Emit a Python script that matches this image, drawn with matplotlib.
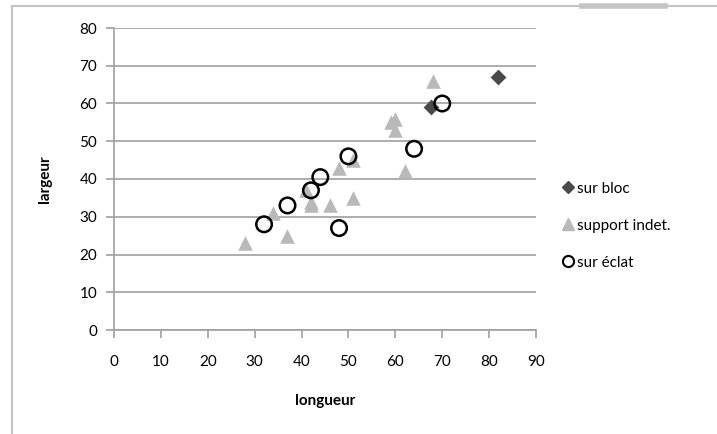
import matplotlib.pyplot as plt
from matplotlib.lines import Line2D

plt.rcParams['font.family'] = ['Lato', 'DejaVu Sans']

# sur bloc
bloc_x = [82, 67.5]
bloc_y = [67, 59]

# support indet.
indet_x = [28, 34, 37, 41, 42, 42, 46, 48, 51, 51, 59, 60, 60, 62, 68]
indet_y = [23, 31, 25, 37, 33, 34, 33, 43, 35, 45, 55, 56, 53, 42, 66]

# sur eclat
eclat_x = [32, 37, 42, 44, 50, 48, 64, 70]
eclat_y = [28, 33, 37, 40.5, 46, 27, 48, 60]

xticks = list(range(0, 91, 10))
yticks = list(range(0, 81, 10))

fig = plt.figure(figsize=(7.17, 4.34), dpi=100)
ax = fig.add_axes([114/717, 1 - 330/434, 422/717, 302/434])

ax.scatter(indet_x, indet_y, marker='^', s=110, color='#b9b9b9', zorder=3,
           label='support indet.', linewidths=0)
ax.scatter(bloc_x, bloc_y, marker='D', s=65, color='#4a4a4a', zorder=4,
           label='sur bloc', linewidths=0)
ax.scatter(eclat_x, eclat_y, marker='o', s=125, facecolors='none',
           edgecolors='black', linewidths=1.8, zorder=5, label='sur éclat')

ax.set_xlim(0, 90)
ax.set_ylim(0, 80)
ax.set_xticks(xticks)
ax.set_yticks(yticks)
ax.grid(axis='y', color='#a0a0a0', linewidth=1.2)
ax.set_axisbelow(True)
for s in ['top', 'right']:
    ax.spines[s].set_visible(False)
for s in ['left', 'bottom']:
    ax.spines[s].set_color('#a0a0a0')
    ax.spines[s].set_linewidth(1.2)
ax.tick_params(axis='both', colors='#a0a0a0', labelcolor='black',
               labelsize=11, length=6, width=1.2)
ax.tick_params(axis='x', pad=12)
ax.tick_params(axis='y', pad=6)

ax.set_xlabel('longueur', fontsize=11, fontweight='bold', labelpad=18)
ax.set_ylabel('largeur', fontsize=11, fontweight='bold', labelpad=20)

handles = [
    Line2D([], [], marker='D', color='#4a4a4a', linestyle='none', markersize=6),
    Line2D([], [], marker='^', color='#b9b9b9', linestyle='none', markersize=9),
    Line2D([], [], marker='o', markerfacecolor='none', markeredgecolor='black',
           markeredgewidth=1.5, linestyle='none', markersize=8),
]
fig.legend(handles, ['sur bloc', 'support indet.', 'sur éclat'],
           loc='upper left', bbox_to_anchor=(548/717, 1 - 168/434),
           frameon=False, fontsize=11, handlelength=0.8, handletextpad=0.2,
           labelspacing=1.5)

# outer chart frame (left and top edges)
fig.add_artist(Line2D([12/717, 12/717], [0, 1 - 6/434], transform=fig.transFigure,
                      color='#c4c4c4', linewidth=1.5))
fig.add_artist(Line2D([12/717, 1], [1 - 6/434, 1 - 6/434], transform=fig.transFigure,
                      color='#c4c4c4', linewidth=1.5))
fig.add_artist(Line2D([582/717, 665/717], [1 - 6/434, 1 - 6/434], transform=fig.transFigure,
                      color='#c4c4c4', linewidth=4))

fig.savefig('out.png', dpi=100)
